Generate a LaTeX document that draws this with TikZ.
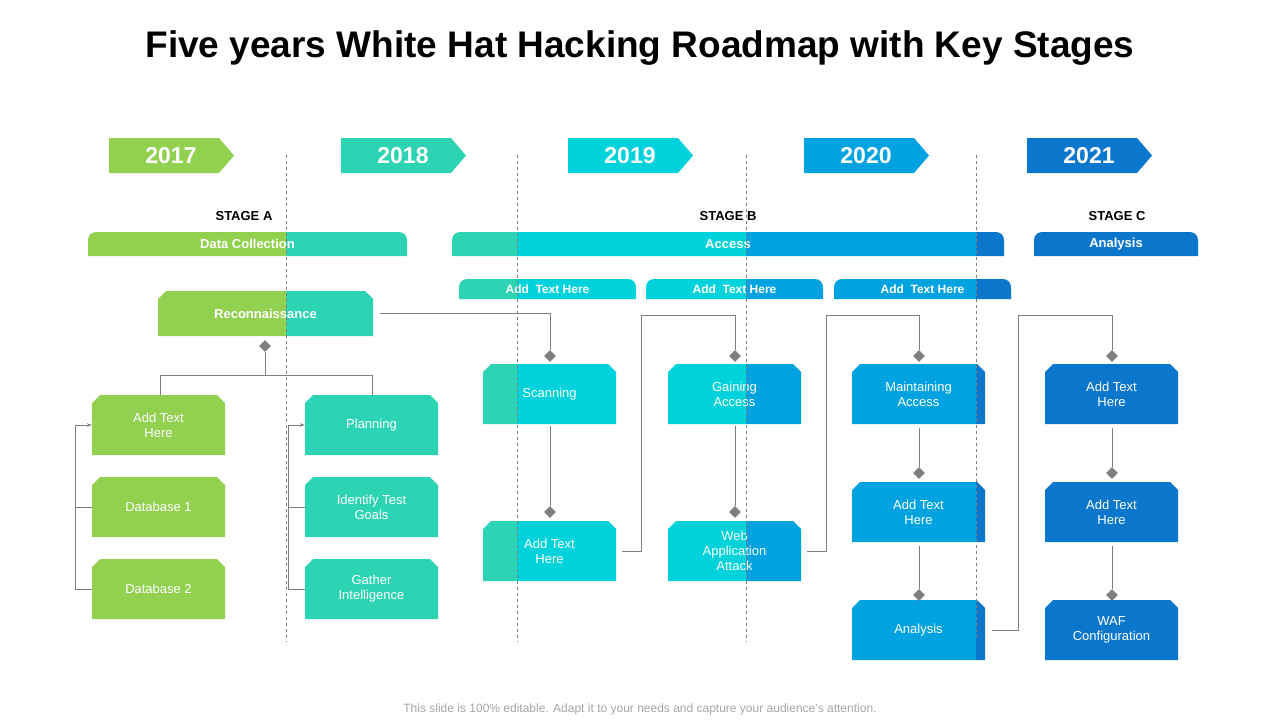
\documentclass[tikz,border=0pt]{standalone}
\usepackage{fontspec}
\setmainfont{Liberation Sans}
\usetikzlibrary{shapes.geometric,arrows.meta}
\definecolor{cA}{HTML}{92D050}
\definecolor{cB}{HTML}{2DD4B4}
\definecolor{cC}{HTML}{00D2DC}
\definecolor{cD}{HTML}{00A3E0}
\definecolor{cE}{HTML}{0A77CC}
\definecolor{ln}{HTML}{7F7F7F}
\newcommand{\bands}{%
\fill[cA] (0,0) rectangle (286,720);\fill[cB] (286,0) rectangle (517,720);
\fill[cC] (517,0) rectangle (746,720);\fill[cD] (746,0) rectangle (976,720);
\fill[cE] (976,0) rectangle (1280,720);}
% chamfered box: name, left, top, right, bottom, text
\newcommand{\cbx}[6]{%
\begin{scope}\clip (#2,#5) -- (#2,#3+8) -- (#2+8,#3) -- (#4-8,#3) -- (#4,#3+8) -- (#4,#5) -- cycle;\bands\end{scope}
\node[txt] (#1) at ({(#2+#4)/2},{(#3+#5)/2}) [minimum width=#4-#2, minimum height=#5-#3] {#6};}
% rounded-top bar
\newcommand{\rbar}[6]{%
\begin{scope}\clip (#2,#5) -- (#2,#3+8) arc[start angle=180,end angle=270,radius=8] -- (#4-8,#3) arc[start angle=270,end angle=360,radius=8] -- (#4,#5) -- cycle;\bands\end{scope}
\node[bartxt,font=\fontsize{#6}{#6}\selectfont\bfseries] (#1) at ({(#2+#4)/2},{(#3+#5)/2}) [minimum width=#4-#2, minimum height=#5-#3] {};}
\newcommand{\yr}[4]{%
\fill[#4] (#2,138) -- (#2+110,138) -- (#2+125,155.5) -- (#2+110,173) -- (#2,173) -- cycle;
\node[font=\fontsize{23}{23}\selectfont\bfseries,text=white] (#1) at (#2+62,155.5) {#3};}
\tikzset{txt/.style={text=white,align=center,font=\fontsize{13}{15}\selectfont,inner sep=0pt},
bartxt/.style={text=white,inner sep=0pt},
dm/.style={diamond,fill=ln,minimum size=12pt,inner sep=0pt},
cn/.style={ln,line width=0.9pt},
dsh/.style={ln,dashed,line width=0.8pt}}
\begin{document}
\begin{tikzpicture}[x=1pt,y=-1pt]
\useasboundingbox (0,0) rectangle (1280,720);
\node[font=\fontsize{37}{37}\selectfont\bfseries] (title) at (640,48) {Five years White Hat Hacking Roadmap with Key Stages};
\yr{y17}{109}{2017}{cA}\yr{y18}{341}{2018}{cB}\yr{y19}{568}{2019}{cC}\yr{y20}{804}{2020}{cD}\yr{y21}{1027}{2021}{cE}
\node[font=\fontsize{13}{13}\selectfont\bfseries] (sa) at (244,216) {STAGE A};
\node[font=\fontsize{13}{13}\selectfont\bfseries] (sb) at (728,216) {STAGE B};
\node[font=\fontsize{13}{13}\selectfont\bfseries] (sc) at (1117,216) {STAGE C};
\rbar{dc}{88}{232}{407}{256}{13}\node[bartxt,font=\fontsize{13}{13}\selectfont\bfseries] at (dc) {Data Collection};
\rbar{ac}{452}{232}{1004}{256}{13}\node[bartxt,font=\fontsize{13}{13}\selectfont\bfseries] at (ac) {Access};
\rbar{an}{1034}{232}{1198}{256}{13}\node[bartxt,font=\fontsize{13}{13}\selectfont\bfseries] at (an) {Analysis};
\rbar{h1}{459}{279}{636}{299}{12}\node[bartxt,font=\fontsize{12}{12}\selectfont\bfseries] at (h1) {Add\ \ Text Here};
\rbar{h2}{646}{279}{823}{299}{12}\node[bartxt,font=\fontsize{12}{12}\selectfont\bfseries] at (h2) {Add\ \ Text Here};
\rbar{h3}{834}{279}{1011}{299}{12}\node[bartxt,font=\fontsize{12}{12}\selectfont\bfseries] at (h3) {Add\ \ Text Here};
\cbx{rec}{158}{291}{373}{336}{\bfseries Reconnaissance}
\cbx{l1}{92}{395}{225}{455}{Add Text\\Here}
\cbx{l2}{92}{477}{225}{537}{Database 1}
\cbx{l3}{92}{559}{225}{619}{Database 2}
\cbx{p1}{305}{395}{438}{455}{Planning}
\cbx{p2}{305}{477}{438}{537}{Identify Test\\Goals}
\cbx{p3}{305}{559}{438}{619}{Gather\\Intelligence}
\cbx{s1}{483}{364}{616}{424}{Scanning}
\cbx{s2}{483}{521}{616}{581}{Add Text\\Here}
\cbx{g1}{668}{364}{801}{424}{Gaining\\Access}
\cbx{g2}{668}{521}{801}{581}{Web\\Application\\Attack}
\cbx{m1}{852}{364}{985}{424}{Maintaining\\Access}
\cbx{m2}{852}{482}{985}{542}{Add Text\\Here}
\cbx{m3}{852}{600}{985}{660}{Analysis}
\cbx{a1}{1045}{364}{1178}{424}{Add Text\\Here}
\cbx{a2}{1045}{482}{1178}{542}{Add Text\\Here}
\cbx{a3}{1045}{600}{1178}{660}{WAF\\Configuration}
\foreach \x in {286,517,746,976} \draw[dsh] (\x,155) -- (\x,642);
\node[dm] (d0) at (265,346) {};
\node[dm] (ds1) at (550,356) {};\node[dm] (ds2) at (550,512) {};
\node[dm] (dg1) at (735,356) {};\node[dm] (dg2) at (735,512) {};
\node[dm] (dm1) at (919,356) {};\node[dm] (dm2) at (919,473) {};\node[dm] (dm3) at (919,595) {};
\node[dm] (da1) at (1112,356) {};\node[dm] (da2) at (1112,473) {};\node[dm] (da3) at (1112,595) {};
\draw[cn] (d0) -- (265,375) -| (160,395);
\draw[cn] (265,375) -| (372,395);
\draw[cn,-{Stealth[length=5pt]}] (l3.west) -- (75,589) -- (75,425) -- (l1.west);
\draw[cn] (l2.west) -- (75,507);
\draw[cn,-{Stealth[length=5pt]}] (p3.west) -- (288,589) -- (288,425) -- (p1.west);
\draw[cn] (p2.west) -- (288,507);
\draw[cn] ([xshift=7pt]rec.east) -| (ds1);
\draw[cn] (ds2) -- (550,426);
\draw[cn] ([xshift=6pt]s2.east) -| (641,315) -| (dg1);
\draw[cn] (dg2) -- (735,426);
\draw[cn] ([xshift=6pt]g2.east) -| (826,315) -| (dm1);
\draw[cn] (dm2) -- (919,428);
\draw[cn] (dm3) -- (919,546);
\draw[cn] ([xshift=7pt]m3.east) -| (1018,315) -| (da1);
\draw[cn] (da2) -- (1112,428);
\draw[cn] (da3) -- (1112,546);
\node[text=ln!70,font=\fontsize{12}{12}\selectfont] (foot) at (640,709) {This slide is 100\% editable. Adapt it to your needs and capture your audience's attention.};
\end{tikzpicture}
\end{document}
